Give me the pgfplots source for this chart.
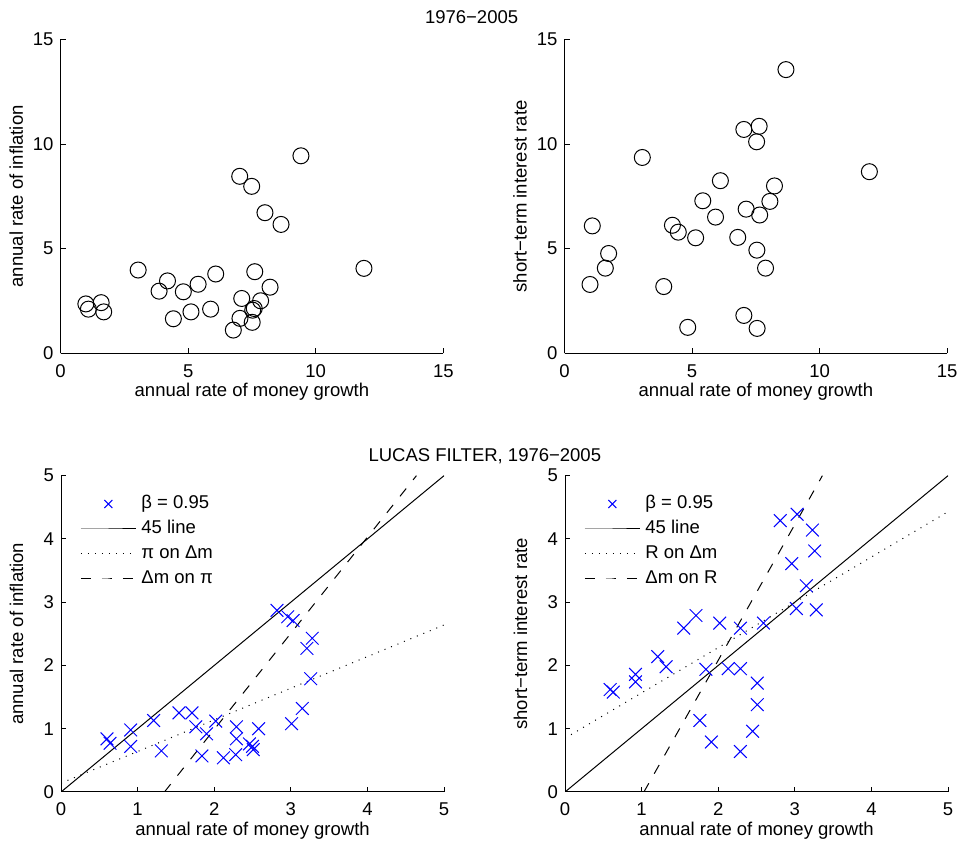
\documentclass[border=0pt]{standalone}
\usepackage{pgfplots}
\pgfplotsset{compat=1.18}
\usepackage{fontspec}
\setmainfont{Liberation Sans}
\definecolor{mblue}{RGB}{0,0,255}
\pgfplotsset{
  mystyle/.style={
    scale only axis,
    axis x line=bottom, axis y line=left,
    axis line style={-, line width=0.5pt},
    tick align=inside,
    major tick length=2.5pt,
    tick style={line width=0.5pt, black},
    font=\fontsize{9.25}{11}\selectfont,
    /pgf/number format/assume math mode=true,
    xticklabel style={yshift=-2pt},
    xlabel style={at={(axis description cs:0.5,0)}, anchor=base, yshift=-21.7pt},
    ylabel style={at={(axis description cs:-0.116,0.5)}, anchor=center},
    legend cell align=left,
    legend style={draw=none, fill=none, at={(0,1)}, anchor=north west,
      xshift=9.5pt, yshift=-9.7pt, inner sep=0pt, row sep=4pt, column sep=2.5pt,
      nodes={inner sep=0pt, text height=6.6pt, text depth=1.9pt},
      font=\fontsize{9.25}{11}\selectfont},
    legend image code/.code={\draw[mark repeat=2,mark phase=2,#1] plot coordinates {(0pt,0pt) (13.75pt,0pt) (27.5pt,0pt)};},
  },
  topstyle/.style={mystyle, width=191.35pt, height=156.9pt,
    xmin=0, xmax=15, ymin=0, ymax=15, xtick={0,5,10,15}, ytick={0,5,10,15},
    xlabel={annual rate of money growth}},
  botstyle/.style={mystyle, width=191.5pt, height=158.15pt,
    xmin=0, xmax=5, ymin=0, ymax=5, xtick={0,1,2,3,4,5}, ytick={0,1,2,3,4,5},
    xlabel={annual rate of money growth}},
  circ/.style={only marks, mark=o, mark size=4pt, mark options={line width=0.5pt, black, fill=none}},
  crs/.style={only marks, mark=x, color=mblue, mark size=4.5pt, mark options={line width=0.5pt}, legend image post style={mark size=2.8pt}},
  fortyfive/.style={black, line width=0.5pt, mark=none},
  dotl/.style={black, line width=0.5pt, mark=none, dash pattern=on 0.5pt off 3pt},
  dashl/.style={black, line width=0.5pt, mark=none, dash pattern=on 5pt off 5.5pt},
}
\begin{document}
\begin{tikzpicture}
\useasboundingbox (0,0) rectangle (479.5pt,422pt);
\node[font=\fontsize{9.25}{11}\selectfont] at (235.8pt,413.5pt) {1976−2005};
\node[font=\fontsize{9.25}{11}\selectfont] at (242.4pt,194pt) {LUCAS FILTER, 1976−2005};

% top-left
\begin{axis}[topstyle, at={(30.3pt,245.35pt)}, anchor=south west,
  ylabel={annual rate of inflation}]
\addplot[circ] coordinates {
(9.42,9.44) (7.02,8.46) (7.49,7.98) (8.01,6.72) (8.64,6.16) (11.89,4.06)
(3.04,3.98) (4.19,3.46) (3.86,2.97) (4.81,2.94) (5.39,3.30) (6.08,3.79)
(7.61,3.90) (8.21,3.16) (7.84,2.51) (7.10,2.62) (7.59,2.14) (7.53,2.06)
(7.03,1.67) (7.51,1.48) (6.77,1.11) (5.88,2.11) (5.11,1.98) (4.42,1.65)
(0.99,2.36) (1.09,2.11) (1.59,2.42) (1.69,1.98)
};
\end{axis}

% top-right
\begin{axis}[topstyle, at={(282.25pt,245.35pt)}, anchor=south west,
  ylabel={short−term interest rate}]
\addplot[circ] coordinates {
(8.68,13.56) (7.03,10.70) (7.63,10.85) (7.53,10.11) (3.05,9.36) (11.95,8.68)
(6.11,8.25) (8.23,8.00) (5.42,7.29) (8.05,7.26) (7.12,6.89) (7.65,6.61)
(5.92,6.51) (1.09,6.09) (4.23,6.12) (4.46,5.79) (5.14,5.52) (6.79,5.54)
(7.54,4.93) (1.73,4.77) (1.60,4.07) (7.88,4.07) (1.00,3.29) (3.89,3.19)
(7.03,1.81) (4.83,1.24) (7.55,1.19)
};
\end{axis}

% bottom-left
\begin{axis}[botstyle, at={(30.5pt,26pt)}, anchor=south west,
  ylabel={annual rate of inflation}]
\addplot[crs] coordinates {
(2.82,2.87) (2.96,2.77) (3.03,2.71) (3.28,2.43) (3.21,2.27) (3.26,1.79)
(3.15,1.32) (3.01,1.08) (1.21,1.13) (1.54,1.25) (1.71,1.25) (1.76,1.03)
(2.02,1.12) (1.90,0.92) (2.29,1.03) (2.58,1.00) (2.29,0.84) (2.46,0.76)
(2.50,0.72) (2.51,0.67) (2.28,0.59) (2.12,0.54) (1.84,0.57) (1.31,0.65)
(0.91,0.98) (0.91,0.72) (0.60,0.84) (0.64,0.77)
};
\addlegendentry{β = 0.95}
\addplot[fortyfive] coordinates {(0,0) (5,5)};
\addlegendentry{45 line}
\addplot[dotl] coordinates {(0,0.14) (5,2.64)};
\addlegendentry{π on Δm}
\addplot[dashl] coordinates {(1.35,0) (4.64,5)};
\addlegendentry{Δm on π}
\end{axis}

% bottom-right
\begin{axis}[botstyle, at={(282.5pt,26pt)}, anchor=south west,
  ylabel={short−term interest rate}]
\addplot[crs] coordinates {
(2.81,4.29) (3.03,4.39) (3.23,4.14) (3.26,3.81) (2.96,3.61) (3.15,3.26)
(3.02,2.90) (3.28,2.88) (2.59,2.67) (2.29,2.59) (2.02,2.67) (1.71,2.79)
(1.55,2.59) (1.21,2.14) (1.32,1.98) (1.84,1.94) (2.13,1.95) (2.29,1.95)
(2.51,1.72) (2.51,1.38) (2.45,0.96) (2.29,0.64) (1.91,0.79) (1.76,1.13)
(0.92,1.86) (0.92,1.74) (0.59,1.62) (0.63,1.58)
};
\addlegendentry{β = 0.95}
\addplot[fortyfive] coordinates {(0,0) (5,5)};
\addlegendentry{45 line}
\addplot[dotl] coordinates {(0,0.85) (5,4.43)};
\addlegendentry{R on Δm}
\addplot[dashl] coordinates {(1.03,0) (3.36,5)};
\addlegendentry{Δm on R}
\end{axis}
\end{tikzpicture}
\end{document}
